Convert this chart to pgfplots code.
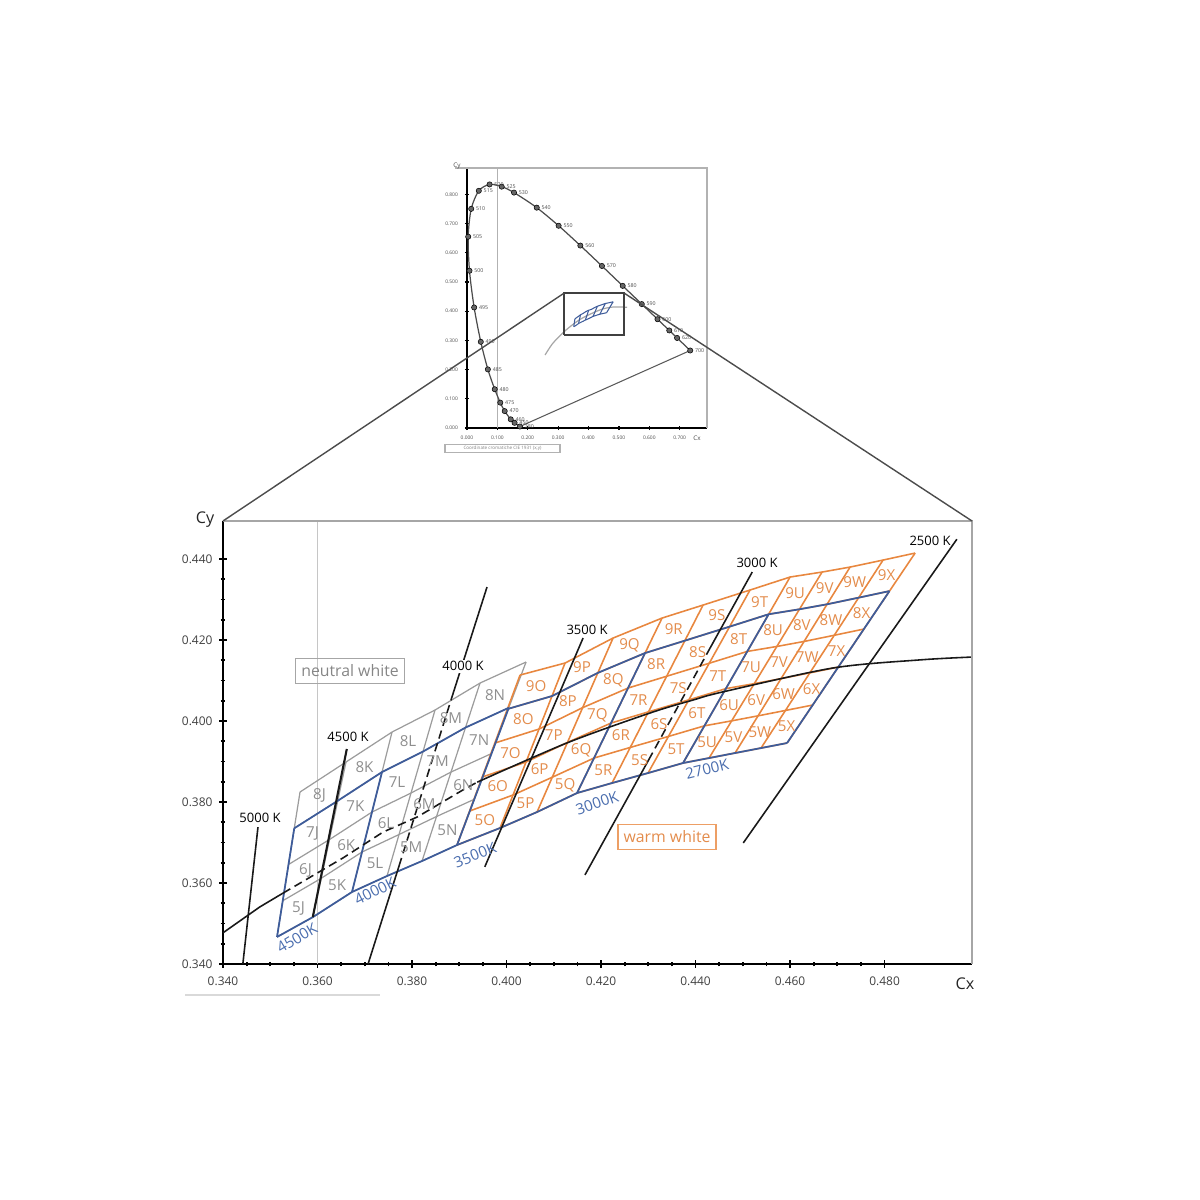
\documentclass[border=0pt]{standalone}
\usepackage{fontspec}
\setmainfont{Open Sans}
\usepackage{pgfplots}
\pgfplotsset{compat=1.18}
\usepackage{pgfplotstable}

\definecolor{gridgray}{HTML}{9C9C9C}
\definecolor{labgray}{HTML}{8E8E8E}
\definecolor{orng}{HTML}{E8873F}
\definecolor{labor}{HTML}{E38C4C}
\definecolor{bluq}{HTML}{3E5C9A}
\definecolor{labbl}{HTML}{4A6DAE}

% column boundary lines of the neutral-white grid (bottom point, top point)
\pgfplotstableread{
bx by tx ty
0.35143 0.34667 0.35630 0.38247
0.35905 0.35160 0.36603 0.38988
0.36730 0.35778 0.37577 0.39728
0.37471 0.36173 0.38487 0.40272
0.38212 0.36543 0.39439 0.40938
0.38952 0.36938 0.40413 0.41457
}\grayb

% column boundary lines of the warm-white grid
\pgfplotstableread{
bx by tx ty
0.38952 0.36938 0.40286 0.41136
0.39862 0.37358 0.41238 0.41432
0.40646 0.37753 0.42254 0.42049
0.41492 0.38222 0.43291 0.42543
0.42233 0.38469 0.44159 0.42864
0.42995 0.38716 0.45153 0.43235
0.43735 0.38963 0.46000 0.43556
0.44286 0.39086 0.46677 0.43679
0.44836 0.39210 0.47270 0.43802
0.45386 0.39333 0.47968 0.43975
0.45937 0.39457 0.48646 0.44148
}\orangeb

% column middles (bottom, top) for the bin names
\pgfplotstableread{
col mbx mby mtx mty
J 0.35524 0.34914 0.36117 0.38618
K 0.36318 0.35469 0.37090 0.39358
L 0.37101 0.35976 0.38032 0.40000
M 0.37842 0.36358 0.38963 0.40605
N 0.38582 0.36741 0.39926 0.41198
}\grayc

\pgfplotstableread{
col mbx mby mtx mty
O 0.39407 0.37148 0.40762 0.41284
P 0.40254 0.37556 0.41746 0.41741
Q 0.41069 0.37988 0.42773 0.42296
R 0.41863 0.38346 0.43725 0.42704
S 0.42614 0.38593 0.44656 0.43050
T 0.43365 0.38840 0.45577 0.43396
U 0.44011 0.39025 0.46339 0.43618
V 0.44561 0.39148 0.46974 0.43741
W 0.45111 0.39272 0.47619 0.43889
X 0.45662 0.39395 0.48307 0.44062
}\orangec

% spectral locus CIE 1931
\pgfplotstableread{
wl x y
380 0.1741 0.0050
450 0.1566 0.0177
460 0.1440 0.0297
470 0.1241 0.0578
475 0.1096 0.0868
480 0.0913 0.1327
485 0.0687 0.2007
490 0.0454 0.2950
495 0.0235 0.4127
500 0.0082 0.5384
505 0.0039 0.6548
510 0.0139 0.7502
515 0.0389 0.8120
520 0.0743 0.8338
525 0.1142 0.8262
530 0.1547 0.8059
540 0.2296 0.7543
550 0.3016 0.6923
560 0.3731 0.6245
570 0.4441 0.5547
580 0.5125 0.4866
590 0.5752 0.4242
600 0.6270 0.3725
610 0.6658 0.3340
620 0.6915 0.3083
700 0.7347 0.2653
}\spec

\newcommand{\bluequads}[1]{%
  \addplot[bluq, line width=#1] table[x=bx, y=by] {\grayb};
  \addplot[bluq, line width=#1] table[x expr={\thisrow{bx}+0.75*(\thisrow{tx}-\thisrow{bx})}, y expr={\thisrow{by}+0.75*(\thisrow{ty}-\thisrow{by})}] {\grayb};
  \addplot[bluq, line width=#1] table[x=bx, y=by] {\orangeb};
  \addplot[bluq, line width=#1] table[x expr={\thisrow{bx}+0.8*(\thisrow{tx}-\thisrow{bx})}, y expr={\thisrow{by}+0.8*(\thisrow{ty}-\thisrow{by})}] {\orangeb};
  \addplot[bluq, line width=#1] coordinates {(0.35143,0.34667)(0.35508,0.37352)};
  \addplot[bluq, line width=#1] coordinates {(0.36730,0.35778)(0.37365,0.38741)};
  \addplot[bluq, line width=#1] coordinates {(0.38952,0.36938)(0.40048,0.40327)};
  \addplot[bluq, line width=#1] coordinates {(0.41492,0.38222)(0.42931,0.41679)};
  \addplot[bluq, line width=#1] coordinates {(0.43735,0.38963)(0.45547,0.42637)};
  \addplot[bluq, line width=#1] coordinates {(0.45937,0.39457)(0.48104,0.43210)};
}

\newcommand{\celfont}{\fontsize{4.3}{5}\selectfont}
\newcommand{\isofont}{\fontsize{3.7}{4}\selectfont}

\begin{document}
\begin{tikzpicture}
\path (0,0) rectangle (12cm,12cm);

% ---------------- inset: full CIE diagram ----------------
\begin{axis}[name=inset, at={(4.67cm,7.72cm)}, anchor=south west,
  scale only axis, width=2.40cm, height=2.60cm,
  xmin=0, xmax=0.79, ymin=0, ymax=0.89, clip=false,
  axis lines=left, axis line style={-, line width=0.5pt, black},
  xtick={0,0.1,0.2,0.3,0.4,0.5,0.6,0.7},
  xticklabels={0.000,0.100,0.200,0.300,0.400,0.500,0.600,0.700},
  ytick={0,0.1,0.2,0.3,0.4,0.5,0.6,0.7,0.8},
  yticklabels={0.000,0.100,0.200,0.300,0.400,0.500,0.600,0.700,0.800},
  tick align=center, major tick length=1.2pt,
  tick style={black, line width=0.35pt},
  ticklabel style={font=\fontsize{1.4}{1.6}\selectfont, text=black!70, inner sep=0.4pt},
  xticklabel style={yshift=-1.0pt},
  yticklabel style={xshift=-1.4pt},
  /pgf/number format/assume math mode=true]
  \addplot[gray!60, line width=0.3pt] coordinates {(0.1,0)(0.1,0.89)};
  \addplot[gray!70!black, line width=0.3pt] coordinates {(0.1741,0.0050)(0.7347,0.2653)};
  \addplot[smooth, gray!60!black, line width=0.35pt] table[x=x, y=y] {\spec};
  \addplot[smooth, gray!70, line width=0.35pt] coordinates {(0.257,0.250)(0.281,0.288)(0.3135,0.3237)(0.345,0.3516)(0.3805,0.3768)(0.437,0.404)(0.477,0.4137)(0.527,0.4133)};
  \bluequads{0.3pt}
  \addplot[only marks, mark=*, mark size=0.75pt, mark options={fill=black!60, draw=black, line width=0.15pt}] table[x=x, y=y] {\spec};
  \addplot[draw=none, mark=none, point meta=explicit symbolic, nodes near coords,
    every node near coord/.append style={anchor=west, font=\fontsize{1.5}{1.7}\selectfont, text=black!70, inner sep=0.3pt, xshift=0.9pt}]
    table[x=x, y=y, meta=wl] {\spec};
  \addplot[black!75, line width=0.55pt] coordinates {(0.320,0.318)(0.517,0.318)(0.517,0.462)(0.320,0.462)(0.320,0.318)};
  \coordinate (rTL) at (axis cs:0.320,0.462);
  \coordinate (rTR) at (axis cs:0.517,0.462);
\end{axis}
\draw[gray!60, line width=0.35pt] ([xshift=-1.2mm]inset.north west) -- (inset.north east) -- (inset.south east);
\node[font=\fontsize{1.8}{2}\selectfont, text=black!70] at ([xshift=-1.0mm,yshift=0.2mm]inset.north west) {Cy};
\node[font=\fontsize{1.8}{2}\selectfont, text=black!70] at ([xshift=-1.0mm,yshift=-1.0mm]inset.south east) {Cx};
\node[draw=gray!60, line width=0.3pt, inner sep=0.4pt, font=\fontsize{1.3}{1.5}\selectfont, text=gray,
  minimum width=1.15cm, minimum height=0.08cm] at (5.025cm,7.515cm) {Coordinate cromatiche CIE 1931 (x,y)};

% ---------------- main zoomed chart ----------------
\begin{axis}[name=main, at={(2.23cm,2.36cm)}, anchor=south west,
  scale only axis, width=7.49cm, height=4.43cm,
  xmin=0.34, xmax=0.4985, ymin=0.34, ymax=0.4494, clip=false,
  axis lines=left, axis line style={-, line width=0.65pt, black},
  xtick={0.34,0.36,0.38,0.40,0.42,0.44,0.46,0.48},
  xticklabels={0.340,0.360,0.380,0.400,0.420,0.440,0.460,0.480},
  ytick={0.34,0.36,0.38,0.40,0.42,0.44},
  yticklabels={0.340,0.360,0.380,0.400,0.420,0.440},
  minor x tick num=3, minor y tick num=3,
  tick align=center, major tick length=2pt, minor tick length=1.3pt,
  tick style={black, line width=0.5pt},
  ticklabel style={font=\fontsize{3.4}{4}\selectfont, text=black!75, inner sep=0.8pt},
  xticklabel style={yshift=-1.6pt},
  yticklabel style={xshift=-1.0pt},
  /pgf/number format/assume math mode=true]

  \addplot[gray!45, line width=0.35pt] coordinates {(0.36,0.34)(0.36,0.4494)};

  % neutral white grid
  \pgfplotsinvokeforeach{0,1,2,3,4}{
    \addplot[gridgray, line width=0.35pt] table[x expr={\thisrow{bx}+#1/4*(\thisrow{tx}-\thisrow{bx})}, y expr={\thisrow{by}+#1/4*(\thisrow{ty}-\thisrow{by})}] {\grayb};
  }
  \addplot[gridgray, line width=0.35pt, quiver={u=\thisrow{tx}-\thisrow{bx}, v=\thisrow{ty}-\thisrow{by}}] table[x=bx, y=by] {\grayb};

  % warm white grid
  \pgfplotsinvokeforeach{0,1,2,3,4,5}{
    \addplot[orng, line width=0.45pt] table[x expr={\thisrow{bx}+#1/5*(\thisrow{tx}-\thisrow{bx})}, y expr={\thisrow{by}+#1/5*(\thisrow{ty}-\thisrow{by})}] {\orangeb};
  }
  \addplot[orng, line width=0.45pt, quiver={u=\thisrow{tx}-\thisrow{bx}, v=\thisrow{ty}-\thisrow{by}}] table[x=bx, y=by] {\orangeb};

  % ANSI quadrangles
  \bluequads{0.5pt}

  % Planckian locus
  \addplot[black!90, line width=0.45pt] coordinates {(0.3400,0.3477)(0.3478,0.3541)(0.3527,0.3575)};
  \addplot[black!90, line width=0.45pt, dash pattern=on 2.4pt off 1.4pt] coordinates {(0.3527,0.3575)(0.3654,0.3662)(0.3739,0.3726)(0.3811,0.3763)(0.3908,0.3830)(0.3938,0.3849)};
  \addplot[black!90, line width=0.45pt, smooth] coordinates {(0.3938,0.3849)(0.4128,0.3946)(0.4304,0.4020)(0.4395,0.4052)(0.4458,0.4072)(0.4691,0.4131)(0.4875,0.4151)(0.4985,0.4158)};

  % isotherms
  \addplot[black!90, line width=0.45pt] coordinates {(0.3442,0.340)(0.3474,0.3738)};
  \addplot[black!90, line width=0.6pt] coordinates {(0.3590,0.3516)(0.3662,0.3931)};
  \addplot[black!90, line width=0.45pt] coordinates {(0.3707,0.340)(0.37725,0.36420)};
  \addplot[black!90, line width=0.45pt, dash pattern=on 2.4pt off 1.4pt] coordinates {(0.37725,0.36420)(0.38825,0.40519)};
  \addplot[black!90, line width=0.45pt] coordinates {(0.38825,0.40519)(0.39587,0.43309)};
  \addplot[black!90, line width=0.45pt] coordinates {(0.3954,0.3640)(0.4162,0.4205)};
  \addplot[black!90, line width=0.45pt] coordinates {(0.4166,0.3620)(0.43006,0.39037)};
  \addplot[black!90, line width=0.45pt, dash pattern=on 2.4pt off 1.4pt] coordinates {(0.43006,0.39037)(0.44307,0.41802)};
  \addplot[black!90, line width=0.45pt] coordinates {(0.44307,0.41802)(0.4520,0.4368)};
  \addplot[black!90, line width=0.45pt] coordinates {(0.4501,0.3699)(0.4953,0.4449)};

  % bin names
  \pgfplotsinvokeforeach{5,6,7,8}{
    \addplot[draw=none, mark=none, point meta=explicit symbolic, nodes near coords={#1\pgfplotspointmeta},
      every node near coord/.append style={anchor=center, font=\celfont, text=labgray}]
      table[x expr={\thisrow{mbx}+(#1-4.5)/4*(\thisrow{mtx}-\thisrow{mbx})}, y expr={\thisrow{mby}+(#1-4.5)/4*(\thisrow{mty}-\thisrow{mby})}, meta=col] {\grayc};
  }
  \pgfplotsinvokeforeach{5,6,7,8,9}{
    \addplot[draw=none, mark=none, point meta=explicit symbolic, nodes near coords={#1\pgfplotspointmeta},
      every node near coord/.append style={anchor=center, font=\celfont, text=labor}]
      table[x expr={\thisrow{mbx}+(#1-4.5)/5*(\thisrow{mtx}-\thisrow{mbx})}, y expr={\thisrow{mby}+(#1-4.5)/5*(\thisrow{mty}-\thisrow{mby})}, meta=col] {\orangec};
  }

  % quadrangle names
  \node[font=\celfont, text=labbl, rotate=31] at (axis cs:0.35566,0.34642) {4500K};
  \node[font=\celfont, text=labbl, rotate=27] at (axis cs:0.37217,0.35802) {4000K};
  \node[font=\celfont, text=labbl, rotate=22] at (axis cs:0.39333,0.36691) {3500K};
  \node[font=\celfont, text=labbl, rotate=19] at (axis cs:0.41915,0.37975) {3000K};
  \node[font=\celfont, text=labbl, rotate=14] at (axis cs:0.44243,0.38815) {2700K};

  % isotherm names
  \node[font=\isofont, text=black] at (axis cs:0.34783,0.37605) {5000 K};
  \node[font=\isofont, text=black] at (axis cs:0.36646,0.39605) {4500 K};
  \node[font=\isofont, text=black, fill=white, inner sep=0.5pt] at (axis cs:0.39079,0.41358) {4000 K};
  \node[font=\isofont, text=black] at (axis cs:0.41704,0.42247) {3500 K};
  \node[font=\isofont, text=black] at (axis cs:0.45302,0.43901) {3000 K};
  \node[font=\isofont, text=black] at (axis cs:0.48963,0.44459) {2500 K};

  \node[draw=gray!70, line width=0.45pt, text=gray!95, font=\fontsize{4.5}{5}\selectfont, inner xsep=1.6pt, inner ysep=1.8pt] at (axis cs:0.36688,0.41235) {neutral white};
  \node[draw=orng!80, line width=0.45pt, text=labor, font=\fontsize{4.5}{5}\selectfont, inner xsep=1.6pt, inner ysep=1.8pt] at (axis cs:0.43397,0.37136) {warm white};
\end{axis}
\draw[gray!70, line width=0.35pt] (main.north west) -- (main.north east) -- (main.south east);
\node[font=\fontsize{4.6}{5}\selectfont, text=black!85] at ([xshift=-1.8mm,yshift=0.1mm]main.north west) {Cy};
\node[font=\fontsize{4.6}{5}\selectfont, text=black!85] at ([xshift=-0.7mm,yshift=-2.0mm]main.south east) {Cx};
\draw[gray!30, line width=0.5pt] (1.85cm,2.05cm) -- (3.80cm,2.05cm);

% zoom connection lines
\draw[black!70, line width=0.4pt] (rTL) -- (main.north west);
\draw[black!70, line width=0.4pt] (rTR) -- (main.north east);
\end{tikzpicture}
\end{document}
